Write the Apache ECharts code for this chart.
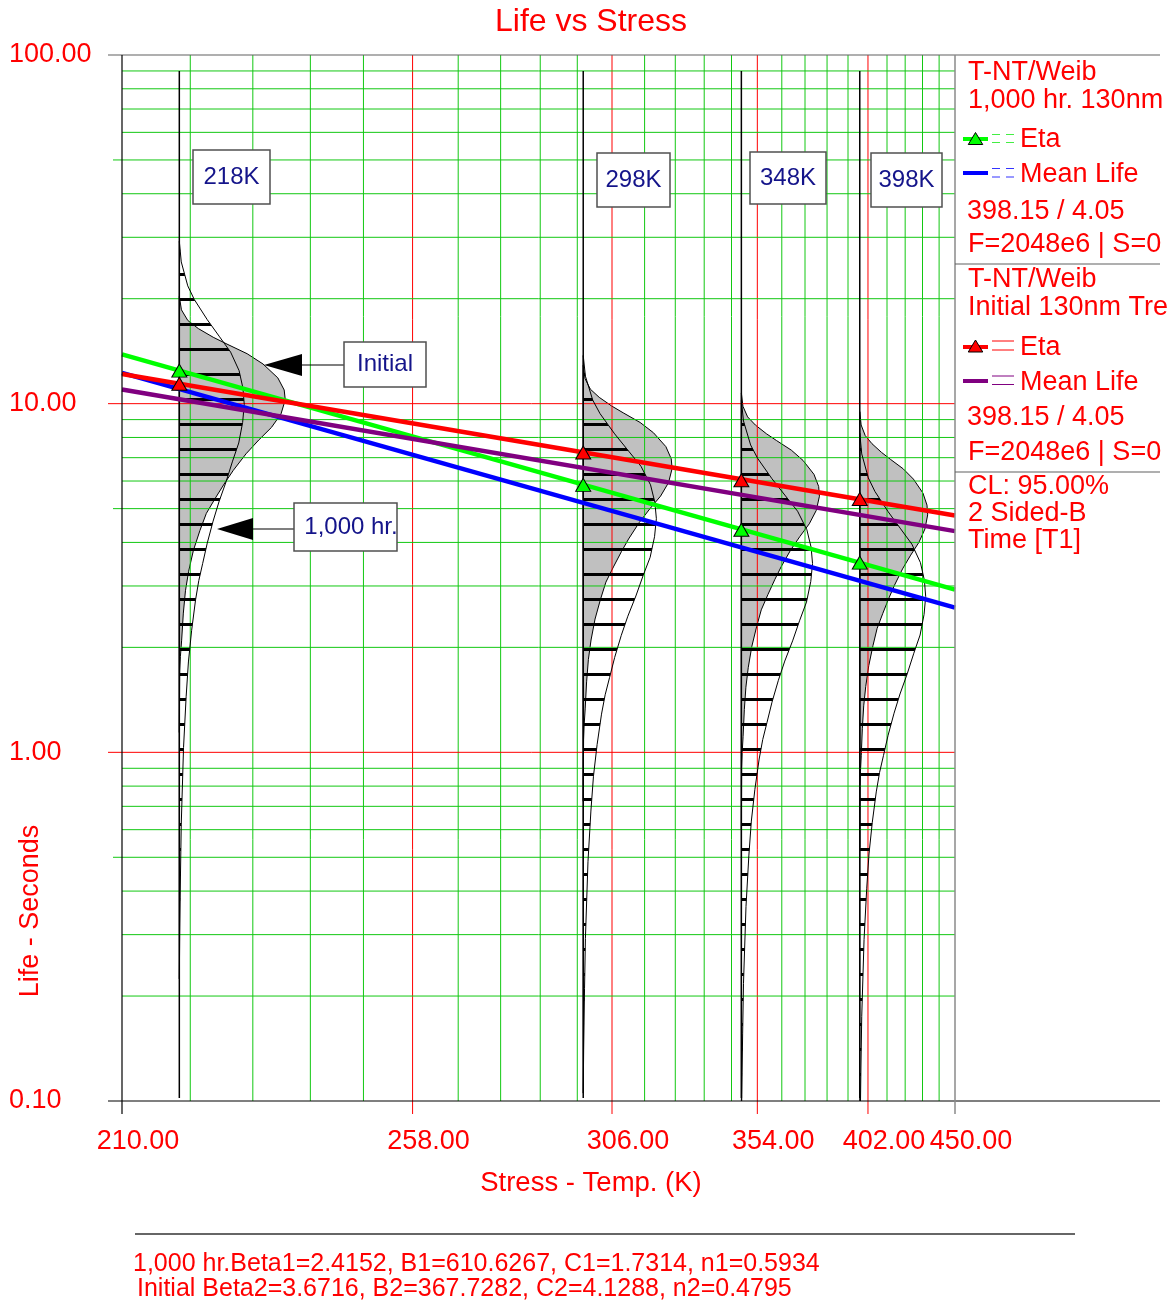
<!DOCTYPE html>
<html>
<head>
<meta charset="utf-8">
<title>Life vs Stress</title>
<script src="https://cdn.jsdelivr.net/npm/echarts@6.0.0/dist/echarts.min.js"></script>
<style>
  html, body { margin: 0; padding: 0; background: #ffffff; }
  #chart { width: 1168px; height: 1310px; }
</style>
</head>
<body>
<div id="chart"></div>
<script>
// ---- data -------------------------------------------------------------
// Test stress levels (K)
const stressLevels = [218, 298, 348, 398];
// Characteristic life (eta, seconds) at each stress level
const etaThousandHr = [12.44, 5.85, 4.35, 3.50];
const etaInitial = [11.40, 7.24, 6.03, 5.33];

// Fitted life-stress lines: end points over the plotted stress range
const lineStress = [210, 450];
const etaLineThousandHr = [13.85, 2.93];
const meanLineThousandHr = [12.26, 2.60];
const etaLineInitial = [12.16, 4.78];
const meanLineInitial = [10.98, 4.31];

// Stress axis (reciprocal temperature scale)
const stressTickLabels = [210, 258, 306, 354, 402, 450];
const stressMinorTicks = [219.6, 229.2, 238.8, 248.4, 267.6, 277.2, 286.8, 296.4,
  315.6, 325.2, 334.8, 344.4, 363.6, 373.2, 382.8, 392.4, 411.6, 421.2, 430.8, 440.4];

// Life axis (log scale)
const lifeTickLabels = [0.1, 1, 10, 100];
const lifeMinorTicks = [0.2, 0.3, 0.4, 0.5, 0.6, 0.7, 0.8, 0.9,
  2, 3, 4, 5, 6, 7, 8, 9, 20, 30, 40, 50, 60, 70, 80, 90];

// pdf outlines: [life / eta, density relative to the peak]
const pdfShapeThousandHr = [
  [2.35, 0.00], [2.05, 0.03], [1.75, 0.13], [1.60, 0.23], [1.40, 0.43],
  [1.25, 0.62], [1.13, 0.79], [1.00, 0.92], [0.89, 0.98], [0.80, 1.00],
  [0.71, 0.975], [0.62, 0.915], [0.55, 0.82], [0.48, 0.72], [0.42, 0.61],
  [0.37, 0.52], [0.32, 0.43], [0.28, 0.36], [0.25, 0.30], [0.22, 0.25],
  [0.18, 0.19], [0.146, 0.14], [0.116, 0.105], [0.083, 0.065], [0.05, 0.03],
  [0.036, 0.018], [0.024, 0.006], [0.018, 0.00]
];
const pdfShapeInitial = [
  [1.78, 0.00], [1.63, 0.02], [1.52, 0.08], [1.44, 0.18], [1.36, 0.32],
  [1.30, 0.45], [1.22, 0.64], [1.14, 0.79], [1.04, 0.93], [0.96, 0.99],
  [0.90, 1.00], [0.82, 0.96], [0.75, 0.87], [0.69, 0.75], [0.63, 0.63],
  [0.565, 0.51], [0.52, 0.43], [0.47, 0.34], [0.425, 0.255], [0.38, 0.195],
  [0.333, 0.133], [0.29, 0.088], [0.255, 0.058], [0.22, 0.038], [0.184, 0.022],
  [0.165, 0.010], [0.15, 0.004], [0.10, 0.00]
];
// pdf peak spread at each stress level (in 1000/K)
const pdfPeakThousandHr = [0.198, 0.223, 0.217, 0.201];
const pdfPeakInitial = [0.323, 0.271, 0.238, 0.207];
// Life range covered by each pdf base line
const pdfLifeSpan = [0.102, 90];

// ---- helpers ----------------------------------------------------------
const inv = T => 1000 / T;                 // stress -> reciprocal axis value
const FONT = '"Liberation Sans", Arial, Helvetica, sans-serif';
const RED = '#ff0000';
const GRID_GREEN = '#12c812';
const NAVY = '#14148a';

const PLOT = { left: 122, top: 55, width: 833, height: 1046 };
const PR = PLOT.left + PLOT.width;         // right edge
const PB = PLOT.top + PLOT.height;         // bottom edge

function hatchCanvas() {
  const c = document.createElement('canvas');
  c.width = 8; c.height = 25;
  const g = c.getContext('2d');
  g.fillStyle = '#000';
  g.fillRect(0, 23, 8, 2);
  g.fillRect(0, 0, 8, 1);
  return c;
}
const hatch = { image: hatchCanvas(), repeat: 'repeat' };

function pdfItem(shape, etas, peaks, fill, withBase) {
  return function (params, api) {
    const i = params.dataIndex;
    const base = inv(stressLevels[i]);
    const pts = shape.map(([r, w]) => api.coord([base - w * peaks[i], etas[i] * r]));
    const children = [{
      type: 'polygon',
      shape: { points: pts },
      style: { fill: fill, stroke: '#000', lineWidth: 1 }
    }];
    if (withBase) {
      const a = api.coord([base, pdfLifeSpan[1]]);
      const b = api.coord([base, pdfLifeSpan[0]]);
      children.push({
        type: 'line',
        shape: { x1: a[0], y1: a[1], x2: b[0], y2: b[1] },
        style: { stroke: '#000', lineWidth: 1.5 }
      });
    }
    return { type: 'group', children };
  };
}

const majorStress = stressTickLabels.slice(1, -1);
const vGrid = majorStress.concat(stressMinorTicks);
const majorLife = lifeTickLabels.slice(1, -1);
const hGrid = majorLife.concat(lifeMinorTicks);

function vGridItem(params, api) {
  const T = vGrid[params.dataIndex];
  const major = majorStress.indexOf(T) >= 0;
  const a = api.coord([inv(T), 100]);
  const b = api.coord([inv(T), 0.1]);
  return {
    type: 'line',
    shape: { x1: a[0], y1: a[1], x2: b[0], y2: b[1] + (major ? 13 : 0) },
    style: { stroke: major ? RED : GRID_GREEN, lineWidth: 1 }
  };
}
function hGridItem(params, api) {
  const v = hGrid[params.dataIndex];
  const major = majorLife.indexOf(v) >= 0;
  const half = [0.5, 5, 50].indexOf(v) >= 0;
  const a = api.coord([inv(210), v]);
  const b = api.coord([inv(450), v]);
  return {
    type: 'line',
    shape: { x1: a[0] - (major ? 14 : half ? 9 : 0), y1: a[1], x2: b[0], y2: b[1] },
    style: { stroke: major ? RED : GRID_GREEN, lineWidth: 1 }
  };
}

const fitLine = (vals) => lineStress.map((T, i) => [inv(T), vals[i]]);
const points = (vals) => stressLevels.map((T, i) => [inv(T), vals[i]]);

// ---- page furniture ---------------------------------------------------
function txt(x, y, text, size, color, align, extra) {
  return Object.assign({
    type: 'text', x: x, y: y, z: 60,
    style: {
      text: text, fill: color, font: size + 'px ' + FONT,
      align: align || 'left', verticalAlign: 'middle',
      textAlign: align || 'left', textVerticalAlign: 'middle'
    }
  }, extra || {});
}
function seg(x1, y1, x2, y2, stroke, lineWidth, dash) {
  return {
    type: 'line', z: 55,
    shape: { x1, y1, x2, y2 },
    style: { stroke, lineWidth: lineWidth || 1, lineDash: dash || null }
  };
}
function tri(cx, top, w, h, fill) {
  return {
    type: 'polygon', z: 58,
    shape: { points: [[cx, top], [cx - w / 2, top + h], [cx + w / 2, top + h]] },
    style: { fill, stroke: '#000', lineWidth: 1 }
  };
}
function box(x, y, w, h, text, tx) {
  return [
    { type: 'rect', z: 56, shape: { x, y, width: w, height: h },
      style: { fill: '#fff', stroke: '#505050', lineWidth: 1.5 } },
    txt(tx !== undefined ? tx : x + w / 2, y + h / 2, text, 24, NAVY, 'center')
  ];
}

const graphics = [
  // frame
  seg(108, PLOT.top, 1160, PLOT.top, '#606060', 1.2),
  seg(108, PB, 1160, PB, '#000', 1.2),
  seg(PLOT.left, PLOT.top, PLOT.left, PB + 13, '#000', 1.2),
  seg(PR, PLOT.top, PR, PB + 13, '#8a8a8a', 1.5),
  seg(PR, 264, 1160, 264, '#606060', 1.2),
  seg(PR, 472, 1160, 472, '#606060', 1.2),
  // titles
  txt(591, 22, 'Life vs Stress', 32, RED, 'center'),
  txt(591, 1183, 'Stress - Temp. (K)', 27.5, RED, 'center'),
  txt(31, 911, 'Life - Seconds', 27, RED, 'center', { rotation: Math.PI / 2 }),
  // legend: 1,000 hr
  txt(968, 73, 'T-NT/Weib', 27, RED),
  txt(968, 101, '1,000 hr. 130nm', 27, RED),
  seg(963, 139, 988, 139, '#00ff00', 4),
  tri(975.5, 132.5, 14.5, 12, '#00ff00'),
  seg(992, 134.5, 1014, 134.5, '#44ee44', 1, [8, 6]),
  seg(992, 142.5, 1014, 142.5, '#44ee44', 1, [8, 6]),
  txt(1020, 140, 'Eta', 27, RED),
  seg(963, 173, 988, 173, '#0000ff', 4),
  seg(992, 168.5, 1014, 168.5, '#3333ff', 1, [8, 6]),
  seg(992, 177, 1014, 177, '#3333ff', 1, [8, 6]),
  txt(1020, 175, 'Mean Life', 27, RED),
  txt(967, 212, '398.15 / 4.05', 27, RED),
  txt(968, 245, 'F=2048e6 | S=0', 27, RED),
  // legend: Initial
  txt(968, 280, 'T-NT/Weib', 27, RED),
  txt(968, 308, 'Initial 130nm Tre', 27, RED),
  seg(963, 347, 988, 347, '#ff0000', 4),
  tri(975.5, 340, 14.5, 12, '#ff0000'),
  seg(992, 341, 1014, 341, '#ff0000', 1),
  seg(992, 350, 1014, 350, '#ff0000', 1),
  txt(1020, 348, 'Eta', 27, RED),
  seg(963, 381, 988, 381, '#800080', 4),
  seg(992, 376, 1014, 376, '#800080', 1),
  seg(992, 384.5, 1014, 384.5, '#800080', 1),
  txt(1020, 383, 'Mean Life', 27, RED),
  txt(967, 418, '398.15 / 4.05', 27, RED),
  txt(968, 453, 'F=2048e6 | S=0', 27, RED),
  txt(968, 487, 'CL: 95.00%', 27, RED),
  txt(968, 514, '2 Sided-B', 27, RED),
  txt(968, 541, 'Time [T1]', 27, RED),
  // footer
  seg(135, 1234, 1075, 1234, '#333', 1.5),
  txt(133, 1264, '1,000 hr.Beta1=2.4152, B1=610.6267, C1=1.7314, n1=0.5934', 25, RED),
  txt(137, 1289, 'Initial Beta2=3.6716, B2=367.7282, C2=4.1288, n2=0.4795', 25, RED),
  // callouts
  ...box(193, 150, 77, 54, '218K'),
  ...box(597, 153, 73, 54, '298K'),
  ...box(750, 152, 76, 52, '348K'),
  ...box(871, 153, 71, 54, '398K'),
  ...box(344, 342, 82, 45, 'Initial'),
  { type: 'polygon', z: 56, shape: { points: [[264, 365], [302, 354], [302, 376]] }, style: { fill: '#000' } },
  seg(302, 365, 344, 365, '#000', 1.2),
  ...box(294, 503, 103, 48, '1,000 hr.', 351),
  { type: 'polygon', z: 56, shape: { points: [[217, 529], [253, 518], [253, 540]] }, style: { fill: '#000' } },
  seg(253, 529, 294, 529, '#000', 1.2)
];

// ---- chart ------------------------------------------------------------
const chart = echarts.init(document.getElementById('chart'), null, { renderer: 'canvas' });
chart.setOption({
  animation: false,
  backgroundColor: '#fff',
  grid: { left: PLOT.left, top: PLOT.top, width: PLOT.width, height: PLOT.height, containLabel: false },
  xAxis: {
    type: 'value',
    inverse: true,
    min: inv(450),
    max: inv(210),
    axisLine: { show: false },
    splitLine: { show: false },
    axisTick: { show: false },
    axisLabel: {
      customValues: stressTickLabels.map(inv),
      formatter: v => (1000 / v).toFixed(2),
      color: RED, fontSize: 27, fontFamily: FONT,
      margin: 27, padding: [0, 0, 0, 32]
    }
  },
  yAxis: {
    type: 'log',
    logBase: 10,
    min: 0.1,
    max: 100,
    axisLine: { show: false },
    splitLine: { show: false },
    axisTick: { show: false },
    axisLabel: {
      formatter: v => Number(v).toFixed(2),
      color: RED, fontSize: 27, fontFamily: FONT,
      align: 'left', margin: 113,
      showMinLabel: true, showMaxLabel: true
    }
  },
  graphic: { elements: graphics },
  series: [
    {
      name: 'pdf Initial', type: 'custom', z: 1, silent: true, clip: true,
      data: points(etaInitial),
      renderItem: pdfItem(pdfShapeInitial, etaInitial, pdfPeakInitial, '#c0c0c0', false)
    },
    {
      name: 'stress grid', type: 'custom', z: 2, silent: true,
      data: vGrid.map(T => [inv(T), 1]),
      renderItem: vGridItem
    },
    {
      name: 'life grid', type: 'custom', z: 2, silent: true,
      data: hGrid.map(v => [inv(300), v]),
      renderItem: hGridItem
    },
    {
      name: 'pdf 1,000 hr', type: 'custom', z: 3, silent: true, clip: true,
      data: points(etaThousandHr),
      renderItem: pdfItem(pdfShapeThousandHr, etaThousandHr, pdfPeakThousandHr, hatch, true)
    },
    {
      name: 'Eta 1,000 hr', type: 'line', z: 4, data: fitLine(etaLineThousandHr),
      showSymbol: false, lineStyle: { color: '#00ff00', width: 4.5 }
    },
    {
      name: 'Mean Life 1,000 hr', type: 'line', z: 4, data: fitLine(meanLineThousandHr),
      showSymbol: false, lineStyle: { color: '#0000ff', width: 4.5 }
    },
    {
      name: 'Eta Initial', type: 'line', z: 4, data: fitLine(etaLineInitial),
      showSymbol: false, lineStyle: { color: '#ff0000', width: 4.5 }
    },
    {
      name: 'Mean Life Initial', type: 'line', z: 4, data: fitLine(meanLineInitial),
      showSymbol: false, lineStyle: { color: '#800080', width: 4.5 }
    },
    {
      name: 'Eta points 1,000 hr', type: 'scatter', z: 5, data: points(etaThousandHr),
      symbol: 'triangle', symbolSize: [15, 13],
      itemStyle: { color: '#00ff00', borderColor: '#000', borderWidth: 1, opacity: 1 }
    },
    {
      name: 'Eta points Initial', type: 'scatter', z: 5, data: points(etaInitial),
      symbol: 'triangle', symbolSize: [15, 13],
      itemStyle: { color: '#ff0000', borderColor: '#000', borderWidth: 1, opacity: 1 }
    }
  ]
});
</script>
</body>
</html>
